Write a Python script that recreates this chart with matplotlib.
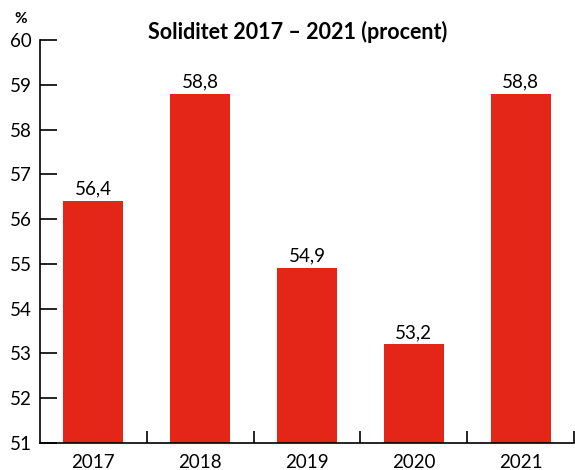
import matplotlib.pyplot as plt

years = ["2017", "2018", "2019", "2020", "2021"]
values = [56.4, 58.8, 54.9, 53.2, 58.8]
labels = ["56,4", "58,8", "54,9", "53,2", "58,8"]

plt.rcParams['font.family'] = ['Lato', 'DejaVu Sans']

fig = plt.figure(figsize=(5.75, 4.7), dpi=100)
ax = fig.add_axes([40 / 575, 27 / 470, 534 / 575, 403 / 470])

x = range(len(years))
ax.bar(x, [v - 51 for v in values], bottom=51, width=0.56, color="#e32617")
for i, v in enumerate(values):
    ax.text(i, v + 0.08, labels[i], ha="center", va="bottom", fontsize=13.5)

ax.set_xlim(-0.5, len(years) - 0.5)
ax.set_ylim(51, 60)
ax.set_yticks(range(51, 61))
ax.set_xticks(list(x))
ax.set_xticklabels(years, fontsize=13.5)
ax.set_xticks([i + 0.5 for i in x], minor=True)
ax.tick_params(axis="x", which="major", length=0, pad=8)
ax.tick_params(axis="x", which="minor", direction="in", length=9, width=1.2)
ax.tick_params(axis="y", direction="in", length=12, width=1.2, labelsize=13.5, pad=6)
for s in ["top", "right"]:
    ax.spines[s].set_visible(False)
for s in ["left", "bottom"]:
    ax.spines[s].set_linewidth(1.2)

fig.text(298 / 575, 1 - 32 / 470, "Soliditet 2017 – 2021 (procent)", ha="center", va="center",
         fontsize=15.5, fontweight="bold")
fig.text(21 / 575, 1 - 19 / 470, "%", ha="center", va="center", fontsize=11, fontweight="bold")

fig.savefig("out.png")
